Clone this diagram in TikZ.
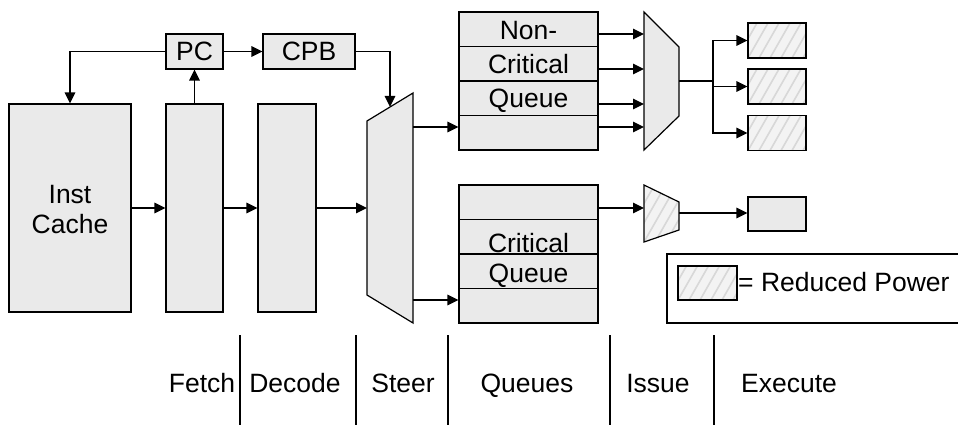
\documentclass[tikz,border=0pt]{standalone}
\usepackage{fontspec}
\setmainfont{Liberation Sans}
\usetikzlibrary{arrows.meta,calc}
\definecolor{blockfill}{RGB}{234,234,234}
\definecolor{hatchbg}{RGB}{243,243,243}
\definecolor{hatchln}{RGB}{216,216,216}
\tikzset{
  unit/.style={draw, fill=blockfill, line width=1.2pt, inner sep=0pt},
  hatched/.style={fill=hatchbg, path picture={
      \foreach \k in {-9,...,9}{
        \draw[hatchln, line width=1.6pt]
          ([xshift=\k*11pt]path picture bounding box.south west) -- ++(40,-70);
      }}},
  hunit/.style={draw, hatched, line width=1.2pt, inner sep=0pt},
  lbl/.style={font=\fontsize{26.5}{30}\selectfont, inner sep=0pt},
  wire/.style={line width=1.3pt},
  arr/.style={wire, -{Triangle[length=11pt,width=10.5pt]}},
  stage/.style={line width=1.2pt},
}
\begin{document}
\begin{tikzpicture}[x=1pt,y=-1pt]
\useasboundingbox (0,0) rectangle (958,425);

% pipeline front end
\node[unit, minimum width=122, minimum height=208] (cache) at (70,208) {};
\node[lbl, anchor=base] at (70,203) {Inst};
\node[lbl, anchor=base] at (70,233) {Cache};
\node[unit, minimum width=57, minimum height=208] (fetch) at (194.5,208) {};
\node[unit, minimum width=58, minimum height=208] (decode) at (287,208) {};
\node[unit, minimum width=57, minimum height=35, lbl] (pc) at (194.5,51.5) {PC};
\node[unit, minimum width=92, minimum height=35, lbl] (cpb) at (309,51.5) {CPB};

% steering multiplexer
\draw[unit] (367,121) -- (413,93) -- (413,323) -- (367,295) -- cycle;
\coordinate (stin) at (367,208);
\coordinate (sttop) at (390,107);
\coordinate (sto1) at (413,127);
\coordinate (sto2) at (413,300);

% non-critical queue
\foreach \r/\y in {1/29.25,2/63.75,3/98.25,4/132.75}{
  \node[unit, minimum width=139, minimum height=34.5] (nq\r) at (528.5,\y) {};
}
\node[lbl, anchor=base] at (528.5,40) {Non-};
\node[lbl, anchor=base] at (528.5,74) {Critical};
\node[lbl, anchor=base] at (528.5,108) {Queue};

% critical queue
\foreach \r/\y in {1/202.25,2/236.75,3/271.25,4/305.75}{
  \node[unit, minimum width=139, minimum height=34.5] (cq\r) at (528.5,\y) {};
}
\node[lbl, anchor=base] at (528.5,252) {Critical};
\node[lbl, anchor=base] at (528.5,282) {Queue};

% issue multiplexers
\draw[unit] (644,12) -- (679,47) -- (679,116) -- (644,150) -- cycle;
\draw[hunit] (644,185) -- (679,202) -- (679,230) -- (644,242) -- cycle;
\coordinate (mout) at (679,81);
\coordinate (mfork) at (713,81);
\coordinate (cmin) at (644,208);
\coordinate (cmout) at (679,213);

% execution units
\node[hunit, minimum width=58, minimum height=35] (e1) at (777,40.5) {};
\node[hunit, minimum width=58, minimum height=35] (e2) at (777,86.5) {};
\node[hunit, minimum width=58, minimum height=35] (e3) at (777,133) {};
\node[unit, minimum width=58, minimum height=34] (ce) at (777,214) {};

% legend
\draw[line width=1.2pt] (962,254) -- (667,254) -- (667,323) -- (962,323);
\node[hunit, minimum width=59, minimum height=34] (key) at (707.5,283) {};
\node[lbl, anchor=base west] at (738,291) {= Reduced Power};

% connectors
\draw[arr] (pc.west) -| (cache.north);
\draw[arr] (fetch.north) -- (pc.south);
\draw[arr] (pc.east) -- (cpb.west);
\draw[arr] (cpb.east) -| (sttop);
\draw[arr] (cache.east) -- (fetch.west);
\draw[arr] (fetch.east) -- (decode.west);
\draw[arr] (decode.east) -- (stin);
\draw[arr] (sto1) -- (sto1 -| nq4.west);
\draw[arr] (sto2) -- (sto2 -| cq4.west);
\foreach \r/\y in {1/34,2/69,3/104,4/127}{
  \draw[arr] (nq\r.east |- 0,\y) -- (644,\y);
}
\draw[wire] (mout) -- (mfork);
\draw[arr] (mfork) |- (e1.west);
\draw[arr] (mfork) |- (e2.west);
\draw[arr] (mfork) |- (e3.west);
\draw[arr] (cq1.east |- cmin) -- (cmin);
\draw[arr] (cmout) -- (cmout -| ce.west);

% stage boundaries and names
\foreach \x in {240,356,448,610,714}{
  \draw[stage] (\x,335) -- (\x,425);
}
\node[lbl, anchor=base] at (202,392) {Fetch};
\node[lbl, anchor=base] at (295,392) {Decode};
\node[lbl, anchor=base] at (403,392) {Steer};
\node[lbl, anchor=base] at (527,392) {Queues};
\node[lbl, anchor=base] at (658,392) {Issue};
\node[lbl, anchor=base] at (789,392) {Execute};
\end{tikzpicture}
\end{document}
